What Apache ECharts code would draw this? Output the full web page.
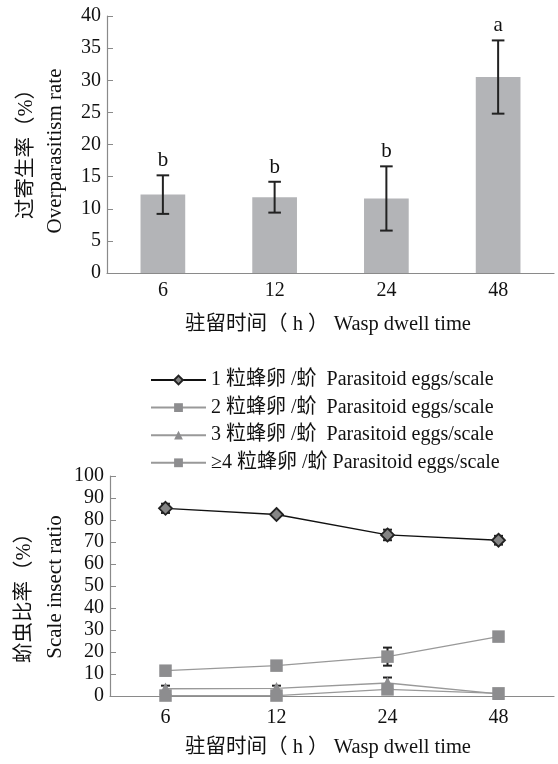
<!DOCTYPE html>
<html><head><meta charset="utf-8">
<script src="https://cdn.jsdelivr.net/npm/echarts@6/dist/echarts.min.js"></script>
<style>html,body{margin:0;padding:0;background:#fff}#c{width:558px;height:764px}</style>
</head><body><div id="c"></div>
<script>
// ---- data ----
const categories = ['6', '12', '24', '48'];
const overRate = [12.2, 11.8, 11.6, 30.5];
const overErr = [3.0, 2.4, 5.0, 5.7];
const overLetters = ['b', 'b', 'b', 'a'];
const topTicks = [0, 5, 10, 15, 20, 25, 30, 35, 40];

const seriesNames = ['1 粒蜂卵 /蚧  Parasitoid eggs/scale', '2 粒蜂卵 /蚧  Parasitoid eggs/scale', '3 粒蜂卵 /蚧  Parasitoid eggs/scale', '≥4 粒蜂卵 /蚧 Parasitoid eggs/scale'];
const egg1 = [85.3, 82.5, 73.2, 70.8];
const egg1Err = [2.1, 0.8, 2.4, 2.0];
const egg2 = [11.5, 13.8, 17.9, 27.0];
const egg2Err = [0.8, 0.8, 4.1, 0.8];
const egg3 = [3.3, 3.5, 5.9, 1.0];
const egg3Err = [1.4, 1.2, 2.5, 0.3];
const egg4 = [0.2, 0.2, 3.0, 1.2];
const egg4Err = [0, 0, 0, 0];
const bottomTicks = [0, 10, 20, 30, 40, 50, 60, 70, 80, 90, 100];

// ---- style ----
const FONT = "'Liberation Serif','Times New Roman','Noto Sans CJK SC',serif";
const AX = '#8a8a8a';
const chart = echarts.init(document.getElementById('c'));

function errRender(capW) {
  return function (params, api) {
    const x = api.value(0), lo = api.value(1), hi = api.value(2);
    const p1 = api.coord([x, hi]), p2 = api.coord([x, lo]);
    const st = { stroke: '#222', lineWidth: 2 };
    const children = [
      { type: 'line', shape: { x1: p1[0], y1: p1[1], x2: p2[0], y2: p2[1] }, style: st },
      { type: 'line', shape: { x1: p1[0] - capW, y1: p1[1], x2: p1[0] + capW, y2: p1[1] }, style: st },
      { type: 'line', shape: { x1: p2[0] - capW, y1: p2[1], x2: p2[0] + capW, y2: p2[1] }, style: st }
    ];
    const letter = api.value(3);
    if (letter && typeof letter === 'string') {
      children.push({ type: 'text', x: p1[0], y: p1[1] - 4, style: { text: letter, fontFamily: FONT, fontSize: 21, fill: '#111', align: 'center', verticalAlign: 'bottom' } });
    }
    return { type: 'group', children };
  };
}

const topErrData = categories.map((c, i) => [i, overRate[i] - overErr[i], overRate[i] + overErr[i], overLetters[i]]);
const bottomErrData = [];
[[egg1, egg1Err], [egg2, egg2Err], [egg3, egg3Err], [egg4, egg4Err]].forEach(([v, e]) => {
  v.forEach((val, i) => { if (e[i] > 0) bottomErrData.push([i, val - e[i], val + e[i], '']); });
});

const axisLabel = { fontFamily: FONT, fontSize: 20, color: '#111' };
const nameStyle = { fontFamily: FONT, fontSize: 21, fill: '#111', align: 'center', verticalAlign: 'middle' };

chart.setOption({
  animation: false,
  textStyle: { fontFamily: FONT },
  grid: [
    { left: 107, right: 4, top: 16, bottom: 491 },
    { left: 110, right: 4, top: 476, bottom: 68 }
  ],
  legend: {
    data: seriesNames,
    orient: 'vertical',
    left: 145, top: 365,
    itemWidth: 55, itemHeight: 11, itemGap: 7.6,
    textStyle: { fontFamily: FONT, fontSize: 20, lineHeight: 20, color: '#111' }
  },
  xAxis: [
    { gridIndex: 0, type: 'category', data: categories,
      axisLine: { lineStyle: { color: AX, width: 1.2 } },
      axisTick: { inside: true, length: 6, lineStyle: { color: AX } },
      axisLabel: Object.assign({ margin: 8 }, axisLabel) },
    { gridIndex: 1, type: 'category', data: categories,
      axisLine: { lineStyle: { color: AX, width: 1.2 } },
      axisTick: { inside: true, length: 6, lineStyle: { color: AX } },
      axisLabel: Object.assign({ margin: 12 }, axisLabel) }
  ],
  yAxis: [
    { gridIndex: 0, type: 'value', min: topTicks[0], max: topTicks[topTicks.length - 1], interval: 5,
      splitLine: { show: false },
      axisLine: { show: true, lineStyle: { color: AX, width: 1.2 } },
      axisTick: { show: true, inside: true, length: 6, lineStyle: { color: AX } },
      axisLabel: Object.assign({ margin: 6 }, axisLabel) },
    { gridIndex: 1, type: 'value', min: bottomTicks[0], max: bottomTicks[bottomTicks.length - 1], interval: 10,
      splitLine: { show: false },
      axisLine: { show: true, lineStyle: { color: AX, width: 1.2 } },
      axisTick: { show: true, inside: true, length: 6, lineStyle: { color: AX } },
      axisLabel: Object.assign({ margin: 6 }, axisLabel) }
  ],
  series: [
    { type: 'bar', xAxisIndex: 0, yAxisIndex: 0, data: overRate, barWidth: '40%', itemStyle: { color: '#b3b4b7' } },
    { type: 'custom', xAxisIndex: 0, yAxisIndex: 0, data: topErrData, renderItem: errRender(6.3), z: 5 },
    { type: 'custom', xAxisIndex: 1, yAxisIndex: 1, data: bottomErrData, renderItem: errRender(4.5), z: 1 },
    { name: seriesNames[0], type: 'line', xAxisIndex: 1, yAxisIndex: 1, data: egg1, z: 4,
      symbol: 'diamond', symbolSize: 13, lineStyle: { color: '#111', width: 1.3 },
      itemStyle: { color: '#858585', borderColor: '#222', borderWidth: 1.8 } },
    { name: seriesNames[1], type: 'line', xAxisIndex: 1, yAxisIndex: 1, data: egg2, z: 3,
      symbol: 'rect', symbolSize: 12.5, lineStyle: { color: '#999', width: 1.3 },
      itemStyle: { color: '#8d8d8f' } },
    { name: seriesNames[2], type: 'line', xAxisIndex: 1, yAxisIndex: 1, data: egg3, z: 3,
      symbol: 'triangle', symbolSize: 12.5, lineStyle: { color: '#999', width: 1.3 },
      itemStyle: { color: '#8d8d8f' } },
    { name: seriesNames[3], type: 'line', xAxisIndex: 1, yAxisIndex: 1, data: egg4, z: 3,
      symbol: 'rect', symbolSize: 12.5, lineStyle: { color: '#999', width: 1.3 },
      itemStyle: { color: '#8d8d8f' } }
  ],
  graphic: [
    { type: 'text', x: 27, y: 149, rotation: Math.PI / 2, style: Object.assign({}, nameStyle, { text: '过寄生率（%）', fontSize: 20.5 }) },
    { type: 'text', x: 55, y: 151, rotation: Math.PI / 2, style: Object.assign({}, nameStyle, { text: 'Overparasitism rate' }) },
    { type: 'text', x: 328, y: 325, style: Object.assign({}, nameStyle, { text: '驻留时间（ h ） Wasp dwell time', fontSize: 20.5 }) },
    { type: 'text', x: 25, y: 593, rotation: Math.PI / 2, style: Object.assign({}, nameStyle, { text: '蚧虫比率（%）', fontSize: 20.5 }) },
    { type: 'text', x: 55, y: 587, rotation: Math.PI / 2, style: Object.assign({}, nameStyle, { text: 'Scale insect ratio' }) },
    { type: 'text', x: 328, y: 748, style: Object.assign({}, nameStyle, { text: '驻留时间（ h ） Wasp dwell time', fontSize: 20.5 }) }
  ]
});
</script></body></html>
